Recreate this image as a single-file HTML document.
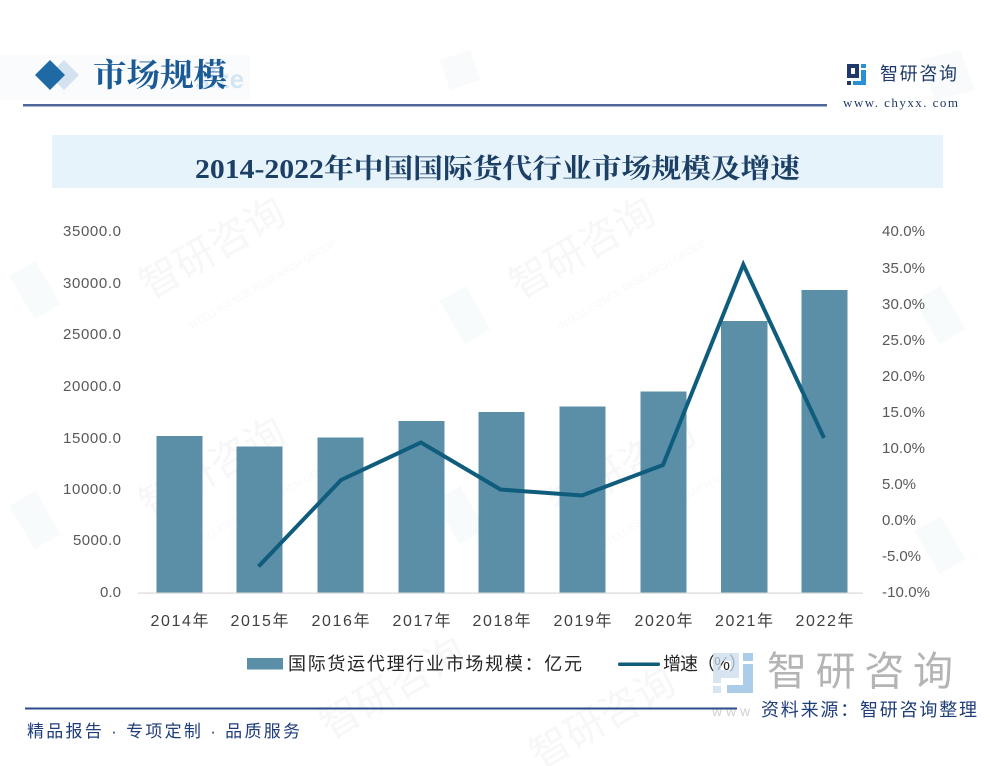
<!DOCTYPE html>
<html>
<head>
<meta charset="utf-8">
<style>
  html,body{margin:0;padding:0;background:#fff;}
  svg{display:block;}
  .s{font-family:"Liberation Sans","Noto Sans CJK SC",sans-serif;}
  .r{font-family:"Liberation Serif","Noto Serif CJK SC",serif;}
</style>
</head>
<body>
<svg width="990" height="766" viewBox="0 0 990 766" xmlns="http://www.w3.org/2000/svg">
  <rect width="990" height="766" fill="#fff"/>

  <!-- faint watermarks -->
  <g opacity="0.45">
    <rect x="0" y="55" width="250" height="45" fill="#f3f5f8"/>
    <g fill="#f0f3f6">
      <polygon points="440,60 470,50 480,80 450,90"/>
      <polygon points="920,60 960,50 975,90 935,100"/>
    </g>
    <g class="s" fill="#ececec" font-size="40">
      <text x="0" y="0" transform="translate(150,300) rotate(-30)">智研咨询</text>
      <text x="0" y="0" transform="translate(520,300) rotate(-30)">智研咨询</text>
      <text x="0" y="0" transform="translate(150,520) rotate(-30)">智研咨询</text>
      <text x="0" y="0" transform="translate(560,520) rotate(-30)">智研咨询</text>
      <text x="0" y="0" transform="translate(330,740) rotate(-30)">智研咨询</text>
      <text x="0" y="0" transform="translate(540,770) rotate(-30)">智研咨询</text>
    </g>
    <g class="s" fill="#efefef" font-size="10">
      <text x="0" y="0" transform="translate(190,330) rotate(-30)">INTELLIGENCE RESEARCH GROUP</text>
      <text x="0" y="0" transform="translate(560,330) rotate(-30)">INTELLIGENCE RESEARCH GROUP</text>
      <text x="0" y="0" transform="translate(190,550) rotate(-30)">INTELLIGENCE RESEARCH GROUP</text>
      <text x="0" y="0" transform="translate(600,550) rotate(-30)">INTELLIGENCE RESEARCH GROUP</text>
    </g>
    <g fill="#f0f5f9">
      <rect x="20" y="265" width="30" height="50" transform="rotate(-30 35 290)"/>
      <rect x="20" y="495" width="30" height="50" transform="rotate(-30 35 520)"/>
      <rect x="450" y="290" width="30" height="50" transform="rotate(-30 465 315)"/>
      <rect x="445" y="490" width="30" height="50" transform="rotate(-30 460 515)"/>
      <rect x="925" y="290" width="30" height="50" transform="rotate(-30 940 315)"/>
      <rect x="925" y="520" width="30" height="50" transform="rotate(-30 940 545)"/>
    </g>
  </g>

  <!-- header -->
  <polygon points="64,60 79,75 64,90 49,75" fill="#d3e2ee"/>
  <polygon points="50,60 65,75 50,90 35,75" fill="#1f6aa5"/>
  <text x="195" y="88" class="s" font-size="26" font-weight="bold" fill="#d4e6f4">size</text>
  <text x="93" y="86" class="r" font-size="32" font-weight="bold" fill="#1a5a95" textLength="134" lengthAdjust="spacingAndGlyphs">市场规模</text>
  <rect x="23" y="104" width="804" height="2.5" fill="#50679b"/>

  <!-- right logo -->
  <rect x="847" y="64" width="12" height="4" fill="#1f3a6a"/>
  <rect x="847" y="64" width="4" height="14" fill="#1f3a6a"/>
  <rect x="855" y="64" width="4" height="10" fill="#1f3a6a"/>
  <rect x="847" y="74" width="12" height="4" fill="#1f3a6a"/>
  <rect x="847" y="81" width="4" height="4" fill="#1f3a6a"/>
  <rect x="861" y="64" width="5" height="4" fill="#2b8fd6"/>
  <rect x="861" y="70" width="5" height="15" fill="#2b8fd6"/>
  <rect x="853" y="81" width="13" height="4" fill="#2b8fd6"/>
  <text x="880" y="80" class="s" font-size="18" fill="#1f3a6a" textLength="77">智研咨询</text>
  <text x="843" y="107" class="r" font-size="13" fill="#1f3a6a" textLength="115">www. chyxx. com</text>

  <!-- title band -->
  <rect x="52" y="135" width="891" height="53" fill="#e6f3fa"/>
  <text x="195" y="178" class="r" font-size="27" font-weight="bold" fill="#1c3f66" textLength="605" lengthAdjust="spacingAndGlyphs">2014-2022年中国国际货代行业市场规模及增速</text>

  <!-- left axis labels -->
  <g class="s" font-size="15" fill="#595959" text-anchor="end">
    <text x="121" y="236" textLength="58">35000.0</text>
    <text x="121" y="288" textLength="58">30000.0</text>
    <text x="121" y="339" textLength="58">25000.0</text>
    <text x="121" y="391" textLength="58">20000.0</text>
    <text x="121" y="443" textLength="58">15000.0</text>
    <text x="121" y="494" textLength="58">10000.0</text>
    <text x="121" y="545" textLength="48">5000.0</text>
    <text x="121" y="597" textLength="21">0.0</text>
  </g>

  <!-- right axis labels -->
  <g class="s" font-size="15" fill="#595959">
    <text x="882" y="236" textLength="43">40.0%</text>
    <text x="882" y="273" textLength="43">35.0%</text>
    <text x="882" y="309" textLength="43">30.0%</text>
    <text x="882" y="345" textLength="43">25.0%</text>
    <text x="882" y="381" textLength="43">20.0%</text>
    <text x="882" y="417" textLength="43">15.0%</text>
    <text x="882" y="453" textLength="43">10.0%</text>
    <text x="882" y="489" textLength="34">5.0%</text>
    <text x="882" y="525" textLength="34">0.0%</text>
    <text x="882" y="561" textLength="39">-5.0%</text>
    <text x="882" y="597" textLength="48">-10.0%</text>
  </g>

  <!-- bars -->
  <g fill="#5b8fa7">
    <rect x="156.5" y="436" width="46" height="156.5"/>
    <rect x="236.5" y="446.5" width="46" height="146"/>
    <rect x="317.5" y="437.5" width="46" height="155"/>
    <rect x="398.5" y="421" width="46" height="171.5"/>
    <rect x="478.5" y="412" width="46" height="180.5"/>
    <rect x="559.5" y="406.5" width="46" height="186"/>
    <rect x="640.5" y="391.5" width="46" height="201"/>
    <rect x="721" y="321" width="46.5" height="271.5"/>
    <rect x="801.5" y="290" width="46" height="302.5"/>
  </g>

  <!-- axis line -->
  <rect x="138" y="592.5" width="725" height="1.2" fill="#d9d9d9"/>

  <!-- growth line -->
  <polyline points="258.5,566.5 341,480 421,442.5 500.5,489.5 582,495.5 663,465 743.3,264.5 824,438" fill="none" stroke="#0f5c7d" stroke-width="4" stroke-linejoin="miter" stroke-linecap="butt"/>

  <!-- x labels -->
  <g class="s" font-size="16" fill="#404040" text-anchor="middle">
    <text x="179.5" y="626" textLength="58">2014年</text>
    <text x="259.5" y="626" textLength="58">2015年</text>
    <text x="340.5" y="626" textLength="58">2016年</text>
    <text x="421.5" y="626" textLength="58">2017年</text>
    <text x="501.5" y="626" textLength="58">2018年</text>
    <text x="582.5" y="626" textLength="58">2019年</text>
    <text x="663.5" y="626" textLength="58">2020年</text>
    <text x="744" y="626" textLength="58">2021年</text>
    <text x="824.5" y="626" textLength="58">2022年</text>
  </g>

  <!-- legend -->
  <rect x="247" y="658" width="36" height="11.5" fill="#5b8fa7"/>
  <text x="288" y="670" class="s" font-size="18" fill="#262626" textLength="294">国际货运代理行业市场规模：亿元</text>
  <rect x="618" y="662.5" width="42" height="3.5" rx="1.5" fill="#0f5c7d"/>
  <text x="663" y="670" class="s" font-size="18" fill="#262626" textLength="84">增速（%）</text>

  <!-- big watermark logo -->
  <g opacity="0.75">
    <rect x="713" y="653" width="26" height="8" fill="#c9dcec"/>
    <rect x="713" y="653" width="8" height="30" fill="#c9dcec"/>
    <rect x="731" y="653" width="8" height="22" fill="#c9dcec"/>
    <rect x="713" y="670" width="26" height="8" fill="#c9dcec"/>
    <rect x="713" y="686" width="8" height="7" fill="#c9dcec"/>
    <rect x="743" y="653" width="10" height="8" fill="#8fbde3"/>
    <rect x="743" y="664" width="10" height="29" fill="#8fbde3"/>
    <rect x="727" y="685" width="26" height="8" fill="#8fbde3"/>
  </g>
  <text x="767" y="685" class="s" font-size="40" fill="#b4b4b4" textLength="186">智研咨询</text>
  <text x="712" y="716" class="s" font-size="14" fill="#d0d0d0">w w w</text>

  <!-- footer -->
  <rect x="25" y="707.5" width="712" height="2" fill="#2b4b8c"/>
  <text x="761" y="716" class="s" font-size="18" fill="#1f3d7a" textLength="216">资料来源：智研咨询整理</text>
  <text x="27" y="737" class="s" font-size="17" fill="#1f3d7a" textLength="273">精品报告 · 专项定制 · 品质服务</text>
</svg>
</body>
</html>
